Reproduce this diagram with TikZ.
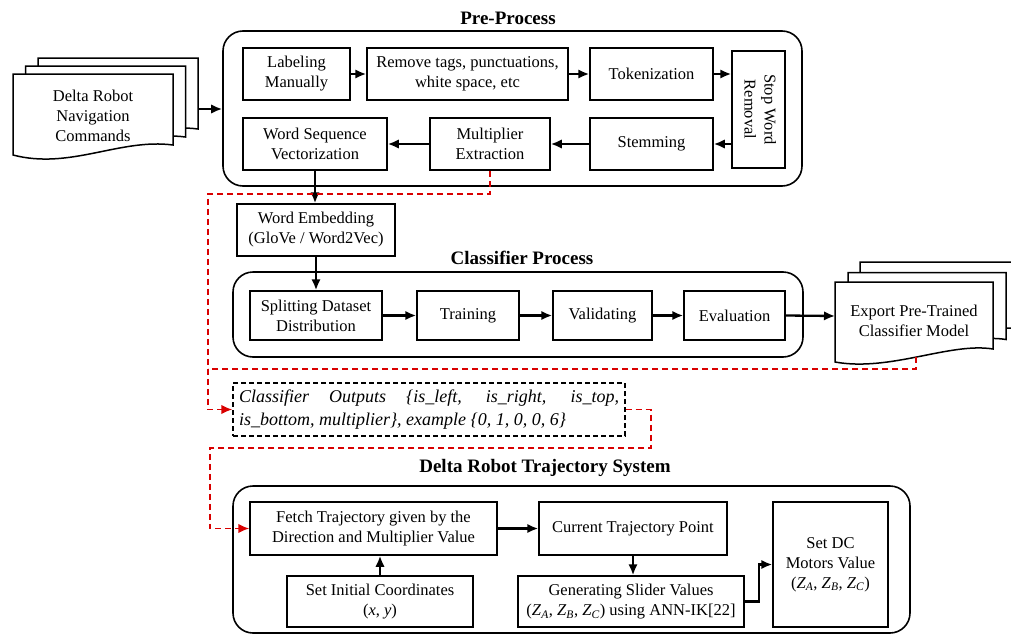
\documentclass[tikz,border=0pt]{standalone}
\usepackage{fontspec}
\setmainfont{Liberation Serif}
\usetikzlibrary{arrows.meta,calc}
\newcommand{\zsub}[1]{\textit{Z}\textsubscript{\textit{#1}}}
\begin{document}
\begin{tikzpicture}[x=1pt,y=-1pt,
 box/.style={draw,line width=1.5pt,fill=white,align=center,inner sep=2pt,font=\fontsize{16.5}{20}\selectfont},
 cont/.style={draw,line width=1.6pt,rounded corners=20pt},
 ttl/.style={font=\fontsize{19}{22}\selectfont\bfseries},
 arr/.style={line width=2.3pt,-{Latex[length=11pt,width=9.5pt]}},
 reddash/.style={draw=red!85!black,line width=1.6pt,dash pattern=on 6pt off 4pt},
 redarr/.style={reddash,-{Latex[length=11pt,width=9.5pt,fill=red!85!black]}},
 doc/.style={draw,line width=1.5pt,fill=white},
 doctext/.style={align=center,font=\fontsize{16.5}{20}\selectfont}]
\useasboundingbox (0,0) rectangle (1011,637);

% ---------- Input document stack ----------
\foreach \dx/\dy in {25/-16,12.5/-8,0/0}{
  \draw[doc,shift={(\dx,\dy)}] (13,74) -- (173,74) -- (173,145)
     .. controls (120,138) and (70,170) .. (13,155) -- cycle;
}
\node[doctext] (inp) at (93,116) {Delta Robot\\Navigation\\Commands};
\coordinate (inpR) at (198,109);

% ---------- Pre-Process ----------
\node[ttl] (pretitle) at (508,18) {Pre-Process};
\node[cont,minimum width=579pt,minimum height=155pt] (pre) at (512.5,108.5) {};
\node[box,minimum width=107pt,minimum height=52pt] (lab) at (296.5,74) {Labeling\\Manually};
\node[box,minimum width=201pt,minimum height=52pt] (rem) at (467.5,74) {Remove tags, punctuations,\\white space, etc};
\node[box,minimum width=123pt,minimum height=52pt] (tok) at (651.5,74) {Tokenization};
\node[box,minimum width=53pt,minimum height=117pt] (stop) at (758.5,109.5)
  {\rotatebox{-90}{\begin{tabular}{@{}c@{}}Stop Word\\Removal\end{tabular}}};
\node[box,minimum width=144pt,minimum height=52pt] (wsv) at (315,144) {Word Sequence\\Vectorization};
\node[box,minimum width=120pt,minimum height=52pt] (mul) at (490,144) {Multiplier\\Extraction};
\node[box,minimum width=123pt,minimum height=52pt] (stem) at (651.5,144) {Stemming};

\draw[arr] (inpR) -- (inpR -| pre.west);
\draw[arr] (lab) -- (rem);
\draw[arr] (rem) -- (tok);
\draw[arr] (tok.east) -- (stop.west |- tok.east);
\draw[arr] (stop.west |- stem.east) -- (stem.east);
\draw[arr] (stem) -- (mul);
\draw[arr] (mul) -- (wsv);

% ---------- Word embedding ----------
\node[box,minimum width=158pt,minimum height=52pt] (we) at (316,230) {Word Embedding\\(GloVe / Word2Vec)};
\draw[arr] (wsv.south) -- (wsv.south |- we.north);

% ---------- Classifier Process ----------
\node[ttl] (clstitle) at (522,258) {Classifier Process};
\node[cont,minimum width=570pt,minimum height=85pt] (cls) at (518,314.5) {};
\node[box,minimum width=132pt,minimum height=49pt] (split) at (316,315.5) {Splitting Dataset\\Distribution};
\node[box,minimum width=102pt,minimum height=49pt] (train) at (468,315.5) {Training};
\node[box,minimum width=99pt,minimum height=49pt] (valid) at (602.5,315.5) {Validating};
\node[box,minimum width=101pt,minimum height=49pt] (eval) at (734.5,315.5) {Evaluation};
\draw[arr] (we.south) -- (we.south |- split.north);
\draw[arr] (split) -- (train);
\draw[arr] (train) -- (valid);
\draw[arr] (valid) -- (eval);

% ---------- Export document stack ----------
\begin{scope}
\clip (0,0) rectangle (1011,637);
\foreach \dx/\dy in {25/-20,13/-9.5,0/0}{
  \draw[doc,shift={(\dx,\dy)}] (835,282) -- (993,282) -- (993,349)
     .. controls (950,342) and (890,372) .. (835,362) -- cycle;
}
\end{scope}
\node[doctext] (exp) at (914,321) {Export Pre-Trained\\Classifier Model};
\coordinate (expL) at (835,316);
\coordinate (expB) at (916,357);
\draw[arr] (eval.east) -- (expL);

% ---------- Classifier outputs ----------
\node[draw,line width=1.4pt,dash pattern=on 5pt off 3pt,fill=white,
      text width=380pt,align=justify,inner sep=6pt,minimum height=53pt,
      font=\fontsize{18}{23}\selectfont\itshape] (co) at (429,409.5)
  {Classifier Outputs \{is\_left, is\_right, is\_top,\linebreak
   is\_bottom, multiplier\}, example \{0, 1, 0, 0, 6\}};

% ---------- Delta Robot Trajectory System ----------
\node[ttl] (trtitle) at (545,468) {Delta Robot Trajectory System};
\node[cont,minimum width=677pt,minimum height=147pt] (trs) at (571.5,559.5) {};
\node[box,minimum width=247pt,minimum height=53pt] (fetch) at (373.5,528.5) {Fetch Trajectory given by the\\Direction and Multiplier Value};
\node[box,minimum width=188pt,minimum height=53pt] (cur) at (633,528.5) {Current Trajectory Point};
\node[box,minimum width=115pt,minimum height=125pt] (dc) at (830.5,564.5) {Set DC\\Motors Value\\(\zsub{A}, \zsub{B}, \zsub{C})};
\node[box,minimum width=186pt,minimum height=51pt] (init) at (380,601.5) {Set Initial Coordinates\\(\textit{x}, \textit{y})};
\node[box,minimum width=226pt,minimum height=51pt] (gen) at (631,601.5) {Generating Slider Values\\(\zsub{A}, \zsub{B}, \zsub{C}) using ANN-IK[22]};

\draw[arr] (init.north) -- (init.north |- fetch.south);
\draw[arr] (fetch) -- (cur);
\draw[arr] (cur.south) -- (cur.south |- gen.north);
\draw[arr] (gen.east) -- ++(14,0) |- (dc.west);

% ---------- Red dashed connectors ----------
\draw[redarr] (mul.south) -- ++(0,23) -| (208,409.5) -- (co.west);
\draw[reddash] (expB) -- (expB |- 0,369) -- (208,369);
\draw[redarr] (co.east) -- ++(25,0) |- (210,448) |- (fetch.west);
\end{tikzpicture}
\end{document}
